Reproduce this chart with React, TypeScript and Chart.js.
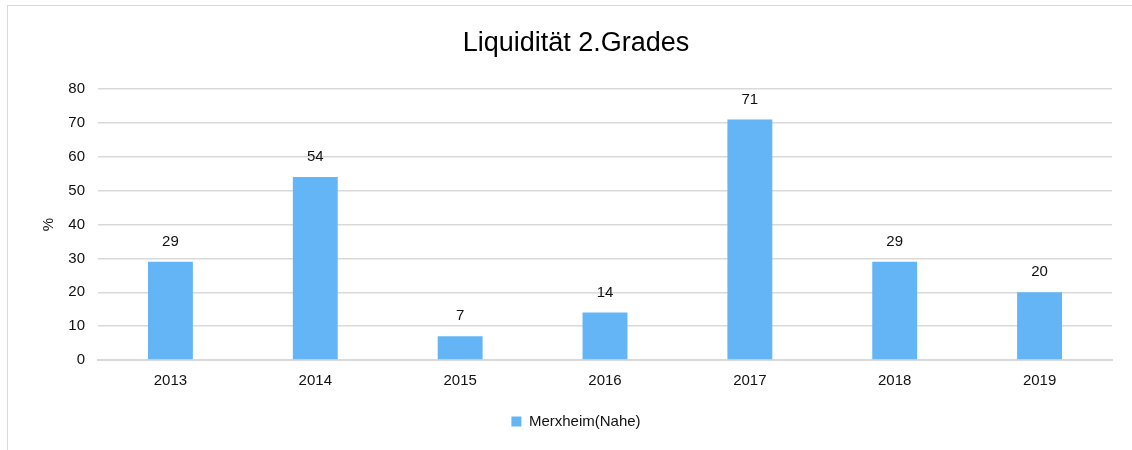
import React, { useEffect, useRef } from "react";
import { Chart, registerables } from "chart.js";

Chart.register(...registerables);

const title = "Liquidität 2.Grades";
const categories = ["2013", "2014", "2015", "2016", "2017", "2018", "2019"];
const seriesName = "Merxheim(Nahe)";
const values = [29, 54, 7, 14, 71, 29, 20];
const yTicksMax = 80;
const yTickStep = 10;
const yAxisTitle = "%";

const FONT = "'Liberation Sans', Arial, Helvetica, sans-serif";
const TEXT = "#111111";
const GRID = "#d9d9d9";
const BAR = "#64b5f6";

const valueLabels = {
  id: "valueLabels",
  afterDatasetsDraw(chart: any) {
    const ctx = chart.ctx;
    ctx.save();
    ctx.font = `15px ${FONT}`;
    ctx.fillStyle = TEXT;
    ctx.textAlign = "center";
    ctx.textBaseline = "middle";
    chart.data.datasets.forEach((ds: any, i: number) => {
      const meta = chart.getDatasetMeta(i);
      meta.data.forEach((el: any, j: number) => {
        ctx.fillText(String(ds.data[j]), el.x, el.y - 20);
      });
    });
    ctx.restore();
  },
};

export default function App() {
  const ref = useRef<HTMLCanvasElement>(null);
  useEffect(() => {
    if (!ref.current) return;
    const chart = new Chart(ref.current, {
      type: "bar",
      data: {
        labels: categories,
        datasets: [
          {
            label: seriesName,
            data: values,
            backgroundColor: BAR,
            borderWidth: 0,
            barPercentage: 0.31,
            categoryPercentage: 1,
          },
        ],
      },
      options: {
        animation: false,
        responsive: false,
        maintainAspectRatio: false,
        layout: { padding: { top: 20, left: 40, right: 20, bottom: 11 } },
        plugins: {
          title: {
            display: true,
            text: title,
            color: "#000",
            font: { family: FONT, size: 27, weight: "normal" },
            padding: { top: 7.8, bottom: 28.8 },
          },
          legend: {
            position: "bottom",
            labels: {
              color: TEXT,
              font: { family: FONT, size: 15 },
              boxWidth: 10,
              boxHeight: 10,
              padding: 10,
            },
          },
          tooltip: { enabled: false },
        },
        scales: {
          x: {
            grid: { display: false, drawTicks: false },
            border: { color: GRID, width: 2 },
            ticks: { color: TEXT, font: { family: FONT, size: 15 }, padding: 12 },
            afterFit: (s: any) => {
              s.height = 44;
            },
          },
          y: {
            min: 0,
            max: yTicksMax,
            grid: { color: GRID, lineWidth: 1.5, drawTicks: false },
            border: { display: false },
            ticks: {
              stepSize: yTickStep,
              color: TEXT,
              font: { family: FONT, size: 15 },
              padding: 13,
            },
            title: {
              display: true,
              text: yAxisTitle,
              color: TEXT,
              font: { family: FONT, size: 15 },
              padding: 0,
            },
            afterFit: (s: any) => {
              s.width = 58;
            },
          },
        },
      },
      plugins: [valueLabels],
    });
    return () => chart.destroy();
  }, []);

  return (
    <div
      style={{
        position: "fixed",
        left: 0,
        top: 0,
        width: 1132,
        height: 450,
        overflow: "hidden",
        background: "#fff",
      }}
    >
      <div
        style={{
          position: "absolute",
          left: 7,
          top: 5,
          width: 1200,
          height: 500,
          border: "1px solid #d9d9d9",
        }}
      />
      <canvas
        ref={ref}
        width={1132}
        height={450}
        style={{ position: "absolute", left: 0, top: 0 }}
      />
    </div>
  );
}
